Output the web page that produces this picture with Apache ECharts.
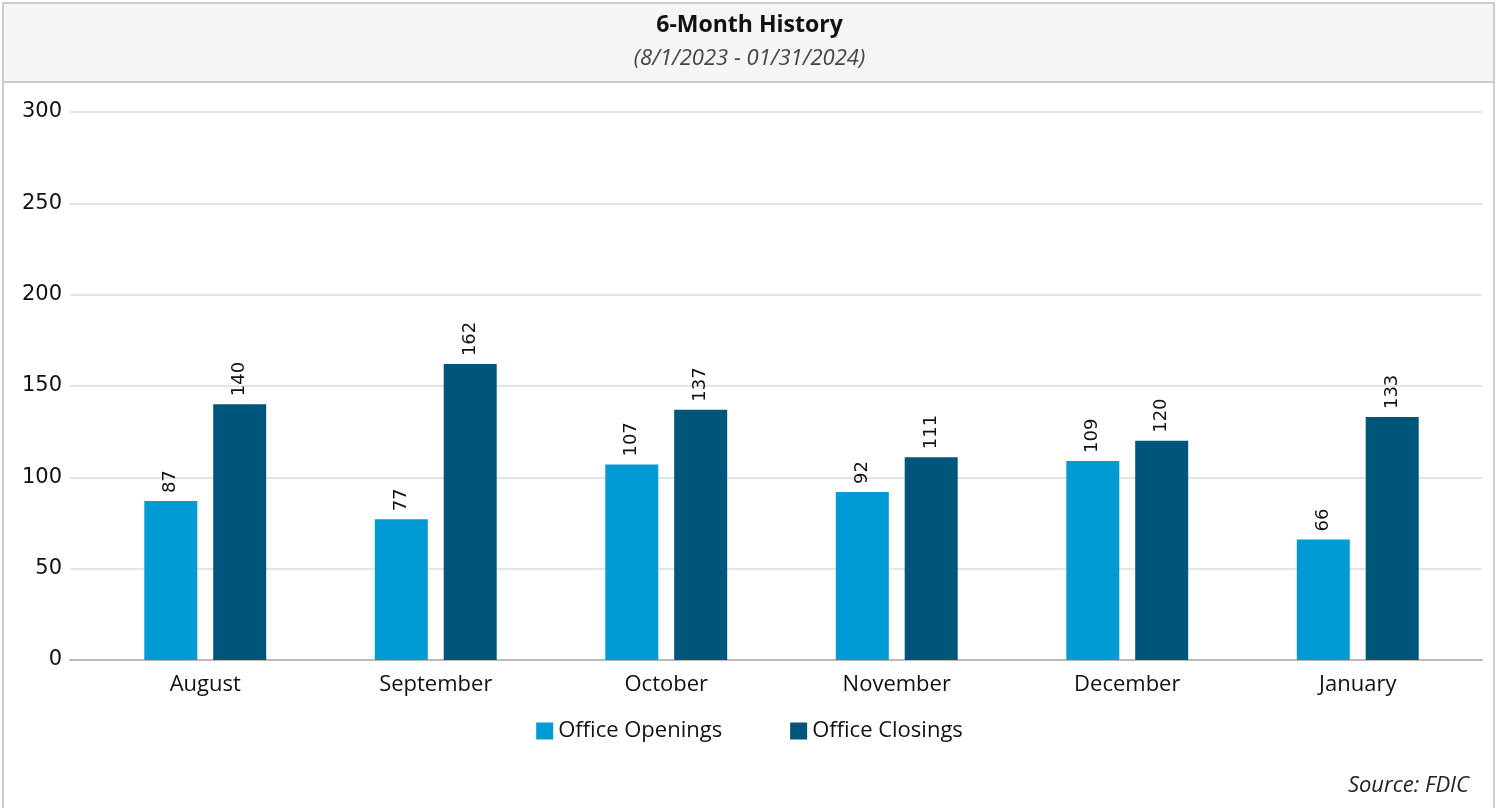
<!DOCTYPE html>
<html style="height: 100%">
<head>
<meta charset="utf-8">
<script src="https://cdn.jsdelivr.net/npm/echarts@6/dist/echarts.min.js"></script>
</head>
<body style="height: 100%; margin: 0; background: #fff">
<div id="container" style="width: 1499px; height: 808px"></div>
<script type="text/javascript">
var months = ['August', 'September', 'October', 'November', 'December', 'January'];
var openings = [87, 77, 107, 92, 109, 66];
var closings = [140, 162, 137, 111, 120, 133];
var yTicks = [0, 300, 50];   // min, max, interval

var font = '"Source Sans Pro", "Open Sans", "Noto Sans", sans-serif';
var numFont = '"DejaVu Sans", sans-serif';
var myChart = echarts.init(document.getElementById('container'));

var option = {
    backgroundColor: '#fff',
    animation: false,
    textStyle: { fontFamily: font },
    graphic: [
        { type: 'rect', z: -10, shape: { x: 3, y: 3, width: 1491, height: 810 },
          style: { fill: '#fff', stroke: '#cccccc', lineWidth: 2 } },
        { type: 'rect', z: -9, shape: { x: 3, y: 3, width: 1491, height: 79 },
          style: { fill: '#f5f5f5', stroke: '#cccccc', lineWidth: 2 } },
        { type: 'text', right: 30, top: 775,
          style: { text: 'Source: FDIC', font: 'italic 22px ' + font, fill: '#222' } }
    ],
    title: {
        text: '6-Month History',
        subtext: '(8/1/2023 - 01/31/2024)',
        left: 'center',
        top: 9,
        itemGap: 11,
        textStyle: { fontSize: 23, fontWeight: 'bold', color: '#111', fontFamily: font },
        subtextStyle: { fontSize: 22, fontStyle: 'italic', color: '#444', fontFamily: font }
    },
    legend: {
        data: ['Office Openings', 'Office Closings'],
        bottom: 61,
        left: 'center',
        itemWidth: 17,
        itemHeight: 17,
        itemGap: 68,
        icon: 'rect',
        textStyle: { fontSize: 22, color: '#111', fontFamily: font }
    },
    grid: [
        { left: 70, right: 17, top: 112, bottom: 148 },
        { left: 90, right: 26, top: 112, bottom: 148 }
    ],
    xAxis: [
        { gridIndex: 0, type: 'category', data: months,
          axisLine: { lineStyle: { color: '#bbbbbb', width: 2 } },
          axisTick: { show: false }, axisLabel: { show: false } },
        { gridIndex: 1, type: 'category', data: months,
          axisLine: { show: false }, axisTick: { show: false },
          axisLabel: { fontSize: 22, color: '#111', margin: 14, fontFamily: font } }
    ],
    yAxis: [
        { gridIndex: 0, type: 'value', min: yTicks[0], max: yTicks[1], interval: yTicks[2],
          axisLine: { show: false }, axisTick: { show: false },
          axisLabel: { fontSize: 21, color: '#111', margin: 8, fontFamily: numFont },
          splitLine: { lineStyle: { color: '#dddddd', width: 1.5 } } },
        { gridIndex: 1, type: 'value', min: yTicks[0], max: yTicks[1], interval: yTicks[2],
          axisLine: { show: false }, axisTick: { show: false },
          axisLabel: { show: false }, splitLine: { show: false } }
    ],
    series: [
        {
            name: 'Office Openings', type: 'bar', xAxisIndex: 1, yAxisIndex: 1,
            data: openings, barWidth: 53, barGap: '30%',
            itemStyle: { color: '#009bd5' },
            label: { show: true, position: 'top', rotate: 90, align: 'left', verticalAlign: 'middle',
                     distance: 8, fontSize: 18, color: '#111', fontFamily: numFont }
        },
        {
            name: 'Office Closings', type: 'bar', xAxisIndex: 1, yAxisIndex: 1,
            data: closings, barWidth: 53, barGap: '30%',
            itemStyle: { color: '#00557a' },
            label: { show: true, position: 'top', rotate: 90, align: 'left', verticalAlign: 'middle',
                     distance: 8, fontSize: 18, color: '#111', fontFamily: numFont }
        }
    ]
};

myChart.setOption(option);
</script>
</body>
</html>
